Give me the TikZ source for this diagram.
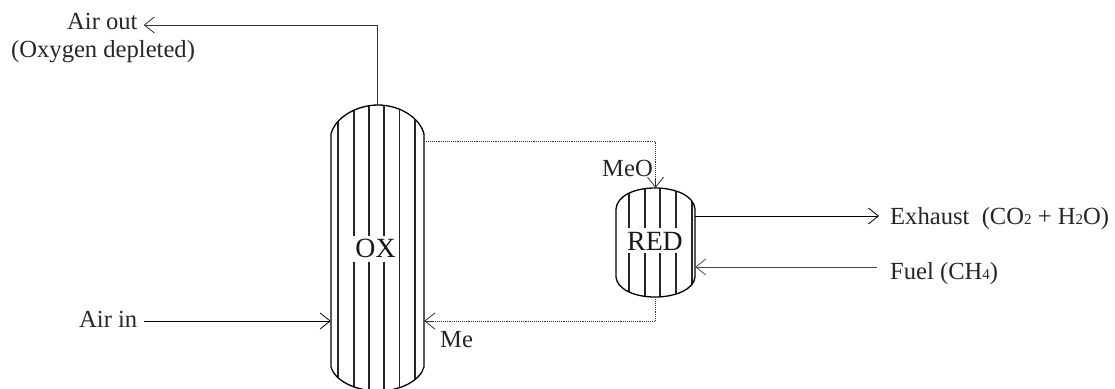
\documentclass[tikz,border=0pt]{standalone}
\usepackage{fontspec}
\setmainfont{Liberation Serif}
\usetikzlibrary{arrows.meta,calc}
\newcommand{\sbs}[1]{{\fontsize{15}{15}\selectfont #1}}
\tikzset{
  x=1pt,y=-1pt,
  lbl/.style={inner sep=0pt,anchor=base west,font=\fontsize{24.6}{26}\selectfont,text=black!85},
  vesslbl/.style={inner xsep=2.5pt,inner ysep=0pt,text height=21pt,text depth=5pt,anchor=base,fill=white,font=\fontsize{27.8}{28}\selectfont,text=black!90},
  vess/.style={line width=1.3pt},
  rod/.style={line width=1.3pt,black!85},
  flow/.style={line width=0.9pt,-{Straight Barb[length=10pt,width=16pt,line width=0.8pt]}},
  dotflow/.style={line width=0.9pt,densely dotted,black!80},
  anchorbox/.style={inner sep=0pt,minimum width=#1,draw=none},
}
\begin{document}
\begin{tikzpicture}
\useasboundingbox (0,0) rectangle (1115,388);
% vessel outlines and rods
\begin{scope}
\clip (331,134) .. controls (335,118) and (356,105) .. (378,105) .. controls (400,105) and (420,118) .. (424,134) -- (424,367) .. controls (420,381) and (400,391) .. (378,391) .. controls (356,391) and (335,381) .. (331,367) -- cycle;
\foreach \x in {338,354,369,384,399.5,415} \draw[rod] (\x,100) -- (\x,395);
\end{scope}
\draw[vess] (331,134) .. controls (335,118) and (356,105) .. (378,105) .. controls (400,105) and (420,118) .. (424,134) -- (424,367) .. controls (420,381) and (400,391) .. (378,391) .. controls (356,391) and (335,381) .. (331,367) -- cycle;
\begin{scope}
\clip (616,209) .. controls (617,196) and (634,188) .. (655,188) .. controls (676,188) and (694,196) .. (695,209) -- (695,277) .. controls (694,289) and (676,297) .. (655,297) .. controls (634,297) and (617,289) .. (616,277) -- cycle;
\foreach \x in {629,645,660,676,692} \draw[rod] (\x,185) -- (\x,300);
\end{scope}
\draw[vess] (616,209) .. controls (617,196) and (634,188) .. (655,188) .. controls (676,188) and (694,196) .. (695,209) -- (695,277) .. controls (694,289) and (676,297) .. (655,297) .. controls (634,297) and (617,289) .. (616,277) -- cycle;
% named nodes
\node[anchorbox=93pt,minimum height=286pt] (ox) at (377.5,248) {};
\node[anchorbox=79pt,minimum height=109pt] (red) at (655.5,242.5) {};
\node[vesslbl] (oxl) at (375.5,257) {OX};
\node[vesslbl,text height=22pt,text depth=3pt] (redl) at (655,250) {RED};
\node[lbl] (airout) at (67,29) {Air out};
\node[lbl] (oxydep) at (11,57) {(Oxygen depleted)};
\node[lbl] (airin) at (79,327) {Air in};
\node[lbl] (me) at (440,347) {Me};
\node[lbl] (meo) at (602,176) {MeO};
\node[lbl] (exh) at (890,224) {Exhaust\ \ (CO\sbs{2} + H\sbs{2}O)};
\node[lbl] (fuel) at (890,279) {Fuel (CH\sbs{4})};
% connectors
\coordinate (outtop) at (ox.north|-0,25);
\draw[flow,black!80] (ox.north) -- (outtop) -- ($(airout.east|-outtop)+(6,0)$);
\coordinate (aiy) at (0,321);
\draw[flow] ($(airin.east|-aiy)+(7,0)$) -- (ox.west|-aiy);
\coordinate (t1) at (red.north|-0,141);
\draw[dotflow] (ox.east|-t1) -- (t1) -- (red.north);
\draw[flow,line width=0.6pt,black!80] ($(red.north)+(0,-9)$) -- (red.north);
\coordinate (b1) at (red.south|-0,321);
\draw[dotflow] (red.south) -- (b1) -- (ox.east|-b1);
\draw[flow,line width=0.6pt,black!80] ($(ox.east|-b1)+(9,0)$) -- (ox.east|-b1);
\draw[flow] (red.east|-0,216) -- ($(exh.west|-0,216)+(-11,0)$);
\draw[flow,black!70] ($(fuel.west|-0,267)+(-13,0)$) -- (red.east|-0,267);
\end{tikzpicture}
\end{document}
